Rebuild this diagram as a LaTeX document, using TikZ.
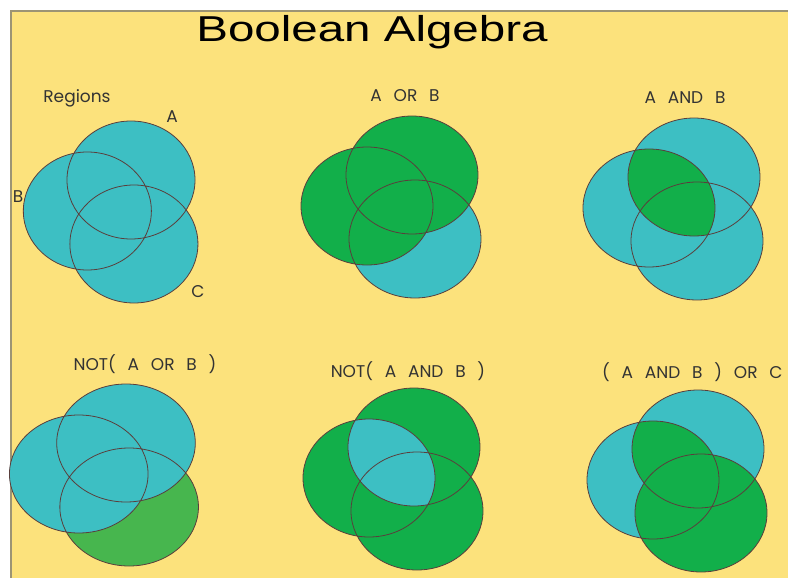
\documentclass[tikz,border=0pt]{standalone}
\usepackage{fontspec}
\setmainfont{Liberation Sans}
\newfontfamily\vennfont[WordSpace=2.6]{Poppins}
\usetikzlibrary{positioning}
\definecolor{vennYellow}{HTML}{FCE27C}
\definecolor{vennTeal}{HTML}{3DBFC3}
\definecolor{vennGreen}{HTML}{12AF4A}
\definecolor{vennLight}{HTML}{47B64E}
\definecolor{vennEdge}{HTML}{5A3E3C}
\definecolor{vennFrame}{HTML}{9C9474}
% the three sets, relative to the centre of A
\newcommand{\vennA}{(0,0) ellipse [x radius=66, y radius=59]}
\newcommand{\vennB}{(-45,31) ellipse [x radius=66, y radius=59]}
\newcommand{\vennC}{(3,64) ellipse [x radius=66, y radius=59]}

\begin{document}
\begin{tikzpicture}[
  x=1pt, y=-1pt,
  label/.style={font=\vennfont\fontsize{17}{19}\selectfont, text=black!80, inner sep=0pt},
  outline/.style={draw=vennEdge, line width=0.8pt}
]
\useasboundingbox (0,0) rectangle (788,578);

% Sheet
\fill[white] (0,0) rectangle (788,578);
\fill[vennYellow] (11,11) rectangle (790,580);
\draw[vennFrame, line width=1.4pt] (11,580) -- (11,11) -- (790,11);

% Title
\node (title) at (372,32) {\fontsize{36}{40}\selectfont\scalebox{1.32}[1]{Boolean Algebra}};

% Regions
\begin{scope}[shift={(131,180)}, xscale=0.97]
  \fill[vennTeal] \vennA \vennB \vennC;
  \draw[outline] \vennA \vennB \vennC;
\end{scope}
\node[label] (regions) at (77,98) {Regions};
\node[label] (labA) at (172,117) {A};
\node[label] (labB) at (18,197) {B};
\node[label] (labC) at (198,292) {C};

% A OR B
\begin{scope}[shift={(412,175)}]
  \fill[vennTeal] \vennC;
  \fill[vennGreen] \vennA \vennB;
  \draw[outline] \vennA \vennB \vennC;
\end{scope}
\node[label] (orAB) at (405,96) {A OR B};

% A AND B
\begin{scope}[shift={(694,177)}]
  \fill[vennTeal] \vennA \vennB \vennC;
  \begin{scope}
    \clip \vennA;
    \fill[vennGreen] \vennB;
  \end{scope}
  \draw[outline] \vennA \vennB \vennC;
\end{scope}
\node[label] (andAB) at (685,98) {A AND B};

% NOT(A OR B)
\begin{scope}[shift={(126,443)}, xscale=1.05]
  \fill[vennLight] \vennC;
  \fill[vennTeal] \vennA \vennB;
  \draw[outline] \vennA \vennB \vennC;
\end{scope}
\node[label] (notOr) at (145,364) {NOT( A OR B )};

% NOT(A AND B)
\begin{scope}[shift={(414,447)}]
  \fill[vennGreen] \vennA \vennB \vennC;
  \begin{scope}
    \clip \vennA;
    \fill[vennTeal] \vennB;
  \end{scope}
  \draw[outline] \vennA \vennB \vennC;
\end{scope}
\node[label] (notAnd) at (408,371) {NOT( A AND B )};

% (A AND B) OR C
\begin{scope}[shift={(698,449)}]
  \fill[vennTeal] \vennA \vennB;
  \fill[vennGreen] \vennC;
  \begin{scope}
    \clip \vennA;
    \fill[vennGreen] \vennB;
  \end{scope}
  \draw[outline] \vennA \vennB \vennC;
\end{scope}
\node[label, anchor=west] (andOrC) at (602,372) {( A AND B ) OR C};

\end{tikzpicture}
\end{document}
